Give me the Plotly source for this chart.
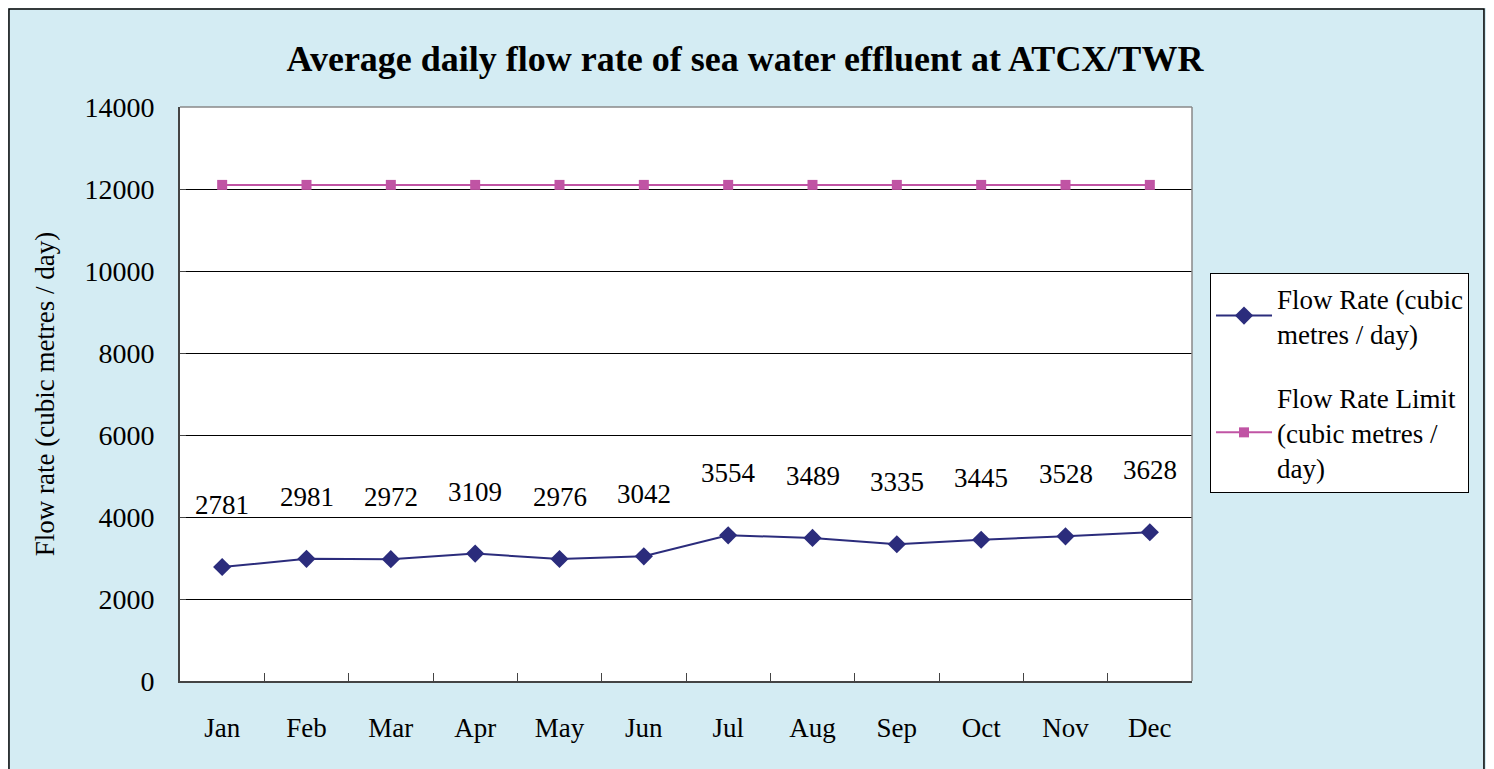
import plotly.graph_objects as go

months = ["Jan", "Feb", "Mar", "Apr", "May", "Jun", "Jul", "Aug", "Sep", "Oct", "Nov", "Dec"]
flow_rate = [2781, 2981, 2972, 3109, 2976, 3042, 3554, 3489, 3335, 3445, 3528, 3628]
flow_limit = [12100] * 12
y_ticks = [0, 2000, 4000, 6000, 8000, 10000, 12000, 14000]

FONT = "Liberation Serif, Times New Roman, serif"

fig = go.Figure()
fig.add_trace(go.Scatter(
    x=months, y=flow_rate, mode="lines+markers",
    name="Flow Rate (cubic<br>metres / day)", legendgroup="a",
    line=dict(color="#2B2C7C", width=2),
    marker=dict(symbol="diamond", size=14, color="#2B2C7C"),
))
fig.add_trace(go.Scatter(
    x=months, y=flow_limit, mode="lines+markers",
    name="Flow Rate Limit<br>(cubic metres /<br>day)", legendgroup="b",
    line=dict(color="#C054A4", width=2),
    marker=dict(symbol="square", size=10, color="#C054A4"),
))

for m, v in zip(months, flow_rate):
    fig.add_annotation(x=m, y=v, text=str(v), showarrow=False, yshift=62,
                       font=dict(family=FONT, size=27, color="black"))

# outer frame
fig.add_shape(type="rect", xref="paper", yref="paper",
              x0=-0.169, x1=1.2885, y0=-0.3, y1=1.1707,
              line=dict(color="black", width=1.5), fillcolor="rgba(0,0,0,0)", layer="below")

fig.update_layout(
    width=1494, height=769,
    paper_bgcolor="#D4ECF3",
    plot_bgcolor="white",
    margin=dict(l=172, r=310, t=99, b=96),
    title=dict(text="<b>Average daily flow rate of sea water effluent at ATCX/TWR</b>",
               x=0.4933, xanchor="center", y=0.935, yanchor="middle",
               font=dict(family=FONT, size=36, color="black")),
    font=dict(family=FONT, color="black"),
    legend=dict(x=1.0178, xanchor="left", y=0.7108, yanchor="top",
                bgcolor="white", bordercolor="black", borderwidth=1,
                font=dict(family=FONT, size=27, color="black"),
                tracegroupgap=26, itemwidth=56),
    showlegend=True,
)
fig.update_xaxes(
    type="category", range=[-0.5, 11.5], tickson="boundaries", ticks="inside", ticklen=8,
    tickcolor="#444", showline=True, linecolor="#444", linewidth=2, mirror=False,
    showgrid=False, tickfont=dict(family=FONT, size=27, color="black"),
    ticklabelstandoff=22,
)
fig.update_yaxes(
    range=[0, 14000], tickvals=y_ticks, tickformat="d", ticks="inside", ticklen=6, tickcolor="#444",
    showline=True, linecolor="#444", linewidth=2, showgrid=True, gridcolor="black",
    gridwidth=1, zeroline=False, tickfont=dict(family=FONT, size=28, color="black"),
    ticklabelstandoff=18,
    title=dict(text="Flow rate (cubic metres / day)", font=dict(family=FONT, size=27, color="black"),
               standoff=22),
)
# grey top and right borders of plot area
fig.add_shape(type="line", xref="paper", yref="paper", x0=0, x1=1, y0=1, y1=1,
              line=dict(color="#888", width=1.5))
fig.add_shape(type="line", xref="paper", yref="paper", x0=1, x1=1, y0=0, y1=1,
              line=dict(color="#888", width=1.5))

fig.write_html("out.html")
